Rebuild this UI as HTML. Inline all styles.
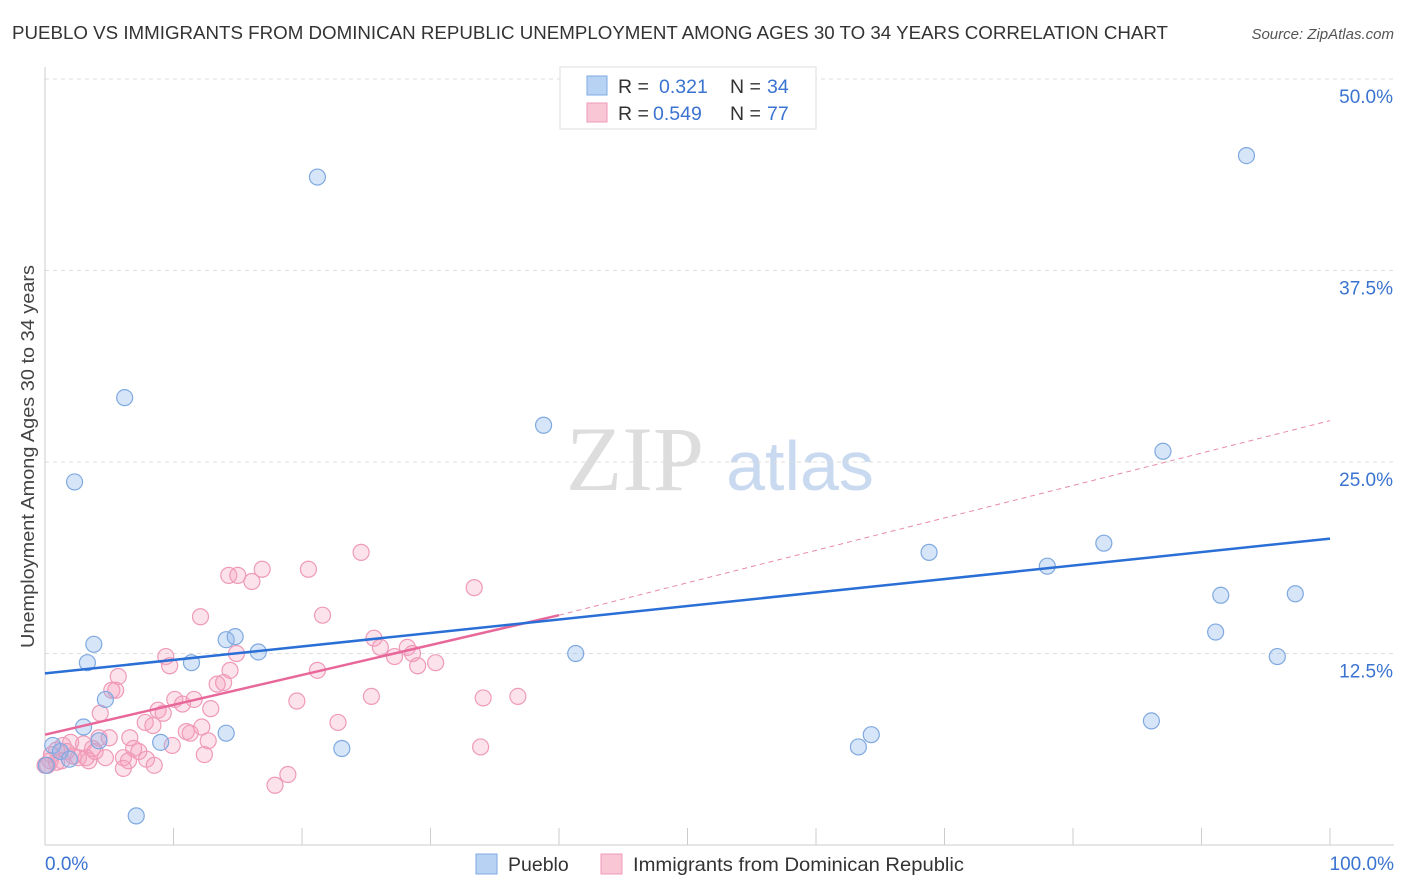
<!DOCTYPE html>
<html><head><meta charset="utf-8"><style>
body{margin:0;background:#fff;font-family:"Liberation Sans",sans-serif;}
</style></head><body>
<svg id="c" width="1406" height="892" xmlns="http://www.w3.org/2000/svg" style="display:block">
<text x="12" y="39" font-size="18" fill="#333" textLength="1156" lengthAdjust="spacingAndGlyphs">PUEBLO VS IMMIGRANTS FROM DOMINICAN REPUBLIC UNEMPLOYMENT AMONG AGES 30 TO 34 YEARS CORRELATION CHART</text>
<text x="1394" y="39" font-size="15" fill="#555" text-anchor="end" font-style="italic">Source: ZipAtlas.com</text>
<text transform="translate(34,648) rotate(-90)" font-size="18" fill="#444" textLength="383" lengthAdjust="spacingAndGlyphs">Unemployment Among Ages 30 to 34 years</text>
<g>
<text x="635" y="490" font-size="92" fill="#ddd" font-family="Liberation Serif,serif" text-anchor="middle">ZIP</text>
<text x="800" y="490" font-size="70" fill="#c9daf0" text-anchor="middle">atlas</text>
</g>
<g id="grid"></g><g id="axes"></g><g id="pts"></g><g id="lines"></g>
<g>
<rect x="560" y="67" width="256" height="62" fill="#fff" stroke="#ddd"/>
<rect x="587" y="76" width="20" height="19" fill="#b8d2f4" stroke="#7fa9e0"/>
<rect x="587" y="103" width="20" height="19" fill="#f9c6d6" stroke="#ee9ab8"/>
<text x="618" y="93" font-size="19.5" fill="#333">R =</text>
<text x="659" y="93" font-size="19.5" fill="#3a73d0">0.321</text>
<text x="730" y="93" font-size="19.5" fill="#333">N =</text>
<text x="767" y="93" font-size="19.5" fill="#3a73d0">34</text>
<text x="618" y="120" font-size="19.5" fill="#333">R =</text>
<text x="653" y="120" font-size="19.5" fill="#3a73d0">0.549</text>
<text x="730" y="120" font-size="19.5" fill="#333">N =</text>
<text x="767" y="120" font-size="19.5" fill="#3a73d0">77</text>
</g>
<g>
<rect x="476" y="854" width="21" height="20" fill="#b8d2f4" stroke="#7fa9e0"/>
<text x="508" y="871" font-size="19.5" fill="#333">Pueblo</text>
<rect x="601" y="854" width="21" height="20" fill="#f9c6d6" stroke="#ee9ab8"/>
<text x="633" y="871" font-size="19.5" fill="#333" textLength="331" lengthAdjust="spacingAndGlyphs">Immigrants from Dominican Republic</text>
</g>
</svg>
<script>
const blueX=[21.2,93.5,6.2,38.8,2.3,87.0,68.8,82.4,78.0,91.5,97.3,91.1,3.8,3.3,14.1,14.8,16.6,11.4,41.3,95.9,4.7,86.1,3.0,14.1,64.3,23.1,63.3,9.0,4.2,0.6,1.2,1.9,0.1,7.1];
const blueY=[43.6,45.0,29.2,27.4,23.7,25.7,19.1,19.7,18.2,16.3,16.4,13.9,13.1,11.9,13.4,13.6,12.6,11.9,12.5,12.3,9.5,8.1,7.7,7.3,7.2,6.3,6.4,6.7,6.8,6.5,6.1,5.6,5.2,1.9];
const pinkX=[24.6,16.9,20.5,14.3,15.0,16.1,33.4,12.1,21.6,9.4,14.9,9.7,25.6,26.1,28.2,28.6,27.2,30.4,29.0,21.2,14.4,5.7,5.2,5.5,13.4,13.9,10.1,10.7,11.6,19.6,25.4,34.1,36.8,8.8,9.2,12.9,4.3,7.8,8.4,22.8,12.2,11.0,11.3,6.6,4.2,5.0,2.0,3.0,3.7,6.9,7.3,9.9,12.7,33.9,1.4,0.9,1.7,2.6,3.4,4.7,6.1,6.5,7.9,8.5,12.4,6.1,18.9,17.9,0.4,0.2,0.9,1.3,3.2,2.2,0.5,3.9,0.0];
const pinkY=[19.1,18.0,18.0,17.6,17.6,17.2,16.8,14.9,15.0,12.3,12.5,11.7,13.5,12.9,12.9,12.5,12.3,11.9,11.7,11.4,11.4,11.0,10.1,10.1,10.5,10.6,9.5,9.2,9.5,9.4,9.7,9.6,9.7,8.8,8.6,8.9,8.6,8.0,7.8,8.0,7.7,7.4,7.3,7.0,7.0,7.0,6.7,6.6,6.3,6.3,6.1,6.5,6.8,6.4,6.5,6.2,6.1,5.7,5.5,5.7,5.7,5.5,5.6,5.2,5.9,5.0,4.6,3.9,5.5,5.2,5.4,5.5,5.7,5.8,5.9,6.1,5.2];
const yTicks=[12.5,25.0,37.5,50.0];
const xTicks=[0,10,20,30,40,50,60,70,80,90,100];
const blueLine=[[0,11.2],[100,20.0]];
const pinkLine=[[0,7.2],[40,15.0]];
const pinkDash=[[40,15.0],[100,27.7]];
const X=v=>45+v*12.85, Y=v=>845-v*15.32;
const NS="http://www.w3.org/2000/svg";
function mk(t,a,p){const e=document.createElementNS(NS,t);for(const k in a)e.setAttribute(k,a[k]);p.appendChild(e);return e;}
const grid=document.getElementById('grid'),axes=document.getElementById('axes'),pts=document.getElementById('pts'),lines=document.getElementById('lines');
yTicks.forEach(v=>{
 const l=mk('line',{x1:45,x2:1394,y1:Y(v),y2:Y(v),stroke:'#ddd','stroke-dasharray':'4,4'},grid);
 
 
 const t=mk('text',{x:1393,y:Y(v)+24,'font-size':19,fill:'#3a73d0','text-anchor':'end'},grid);
 t.textContent=v.toFixed(1)+'%';
 
 
});
const ax=mk('line',{x1:45,x2:1394,y1:845,y2:845,stroke:'#ccc'},axes);


const ay=mk('line',{x1:45,x2:45,y1:67,y2:845,stroke:'#ccc'},axes);


xTicks.forEach(v=>{
 const l=mk('line',{x1:X(v),x2:X(v),y1:828,y2:845,stroke:'#ccc'},axes);
 
 
});
[[0,'0.0%','start',45],[100,'100.0%','end',1394]].forEach(d=>{
 const t=mk('text',{x:d[3],y:870,'font-size':19,fill:'#3a73d0','text-anchor':d[2]},axes);
 t.textContent=d[1];
 
 
});
pinkX.forEach((x,i)=>{
 const c=mk('circle',{cx:X(x),cy:Y(pinkY[i]),r:8,fill:'rgba(245,160,190,0.3)',stroke:'#ef9ab8','stroke-width':1.2},pts);
 
 
});
blueX.forEach((x,i)=>{
 const c=mk('circle',{cx:X(x),cy:Y(blueY[i]),r:8,fill:'rgba(140,180,235,0.35)',stroke:'#7fa9e0','stroke-width':1.2},pts);
 
 
});
function ln(d,st,w,dash,name){const l=mk('line',{x1:X(d[0][0]),y1:Y(d[0][1]),x2:X(d[1][0]),y2:Y(d[1][1]),stroke:st,'stroke-width':w},lines);if(dash)l.setAttribute('stroke-dasharray',dash);
 
 }
ln(pinkDash,'#e88aaa',1,'5,4','dominican-trend-extension');
ln(pinkLine,'#e8679a',2.5,null,'dominican-trend-line');
ln(blueLine,'#2a6fd6',2.5,null,'pueblo-trend-line');
</script>
</body></html>
